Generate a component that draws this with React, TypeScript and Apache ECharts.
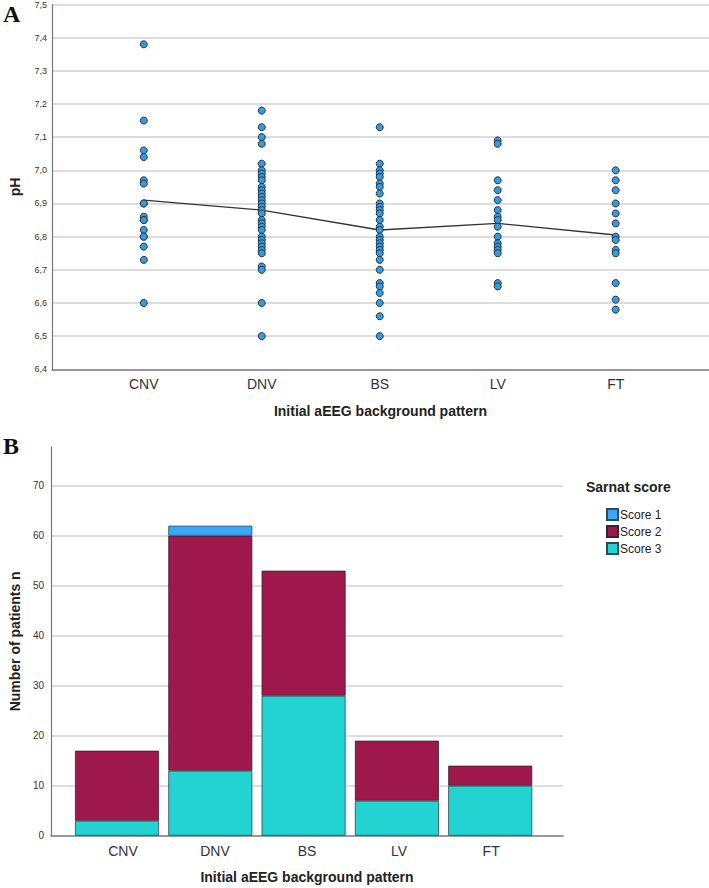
import React, { useEffect, useRef } from "react";
import * as echarts from "echarts";

const categories = ["CNV", "DNV", "BS", "LV", "FT"];

const phCNV = [7.38, 7.15, 7.06, 7.04, 6.97, 6.96, 6.9, 6.9, 6.86, 6.85, 6.85, 6.82, 6.8, 6.8, 6.77, 6.73, 6.6];
const phDNV = [
  7.18, 7.13, 7.1, 7.08, 7.02, 7.0, 6.99, 6.98, 6.97, 6.95, 6.94, 6.93, 6.92, 6.91, 6.9, 6.89,
  6.88, 6.87, 6.85, 6.84, 6.83, 6.82, 6.8, 6.79, 6.78, 6.77, 6.76, 6.75, 6.71, 6.7, 6.6, 6.5,
];
const phBS = [
  7.13, 7.02, 7.0, 6.99, 6.98, 6.96, 6.95, 6.93, 6.9, 6.89, 6.88, 6.87, 6.85, 6.83, 6.82, 6.8,
  6.79, 6.78, 6.77, 6.76, 6.75, 6.73, 6.7, 6.66, 6.65, 6.63, 6.6, 6.56, 6.5,
];
const phLV = [7.09, 7.08, 6.97, 6.94, 6.91, 6.88, 6.86, 6.85, 6.83, 6.8, 6.78, 6.77, 6.76, 6.75, 6.66, 6.65];
const phFT = [7.0, 6.97, 6.94, 6.9, 6.87, 6.84, 6.8, 6.79, 6.76, 6.75, 6.66, 6.61, 6.58];
const phMeans = [6.91, 6.88, 6.82, 6.84, 6.805];

const score1 = [0, 2, 0, 0, 0];
const score2 = [14, 47, 25, 12, 4];
const score3 = [3, 13, 28, 7, 10];

const FONT = "Liberation Sans, Arial, sans-serif";

export default function App() {
  const ref = useRef<HTMLDivElement>(null);
  useEffect(() => {
    if (!ref.current) return;
    const chart = echarts.init(ref.current, undefined, { renderer: "svg" });
    const phGroups = [phCNV, phDNV, phBS, phLV, phFT];
    const scatterData: number[][] = [];
    phGroups.forEach((g, i) => g.forEach((v) => scatterData.push([i, v])));

    const catLabel = (v: number) => {
      const i = Math.round(v);
      return Math.abs(v - i) < 1e-6 && categories[i] ? categories[i] : "";
    };
    const nonZero = (arr: number[]) => arr.map((v) => (v === 0 ? null : v));
    const axisName = {
      fontSize: 14,
      fontWeight: "bold",
      color: "#222",
      fontFamily: FONT,
    };

    const option: any = {
      animation: false,
      backgroundColor: "#fff",
      grid: [
        { left: 43, top: 4, width: 666, height: 365.3 },
        { left: 44, top: 447, width: 519, height: 388.7 },
        { left: 70.35, top: 447, width: 466.5, height: 388.7 },
      ],
      xAxis: [
        {
          gridIndex: 0,
          type: "value",
          min: -0.778,
          max: 4.791,
          axisLine: { show: true, onZero: false, lineStyle: { color: "#777", width: 1.5 } },
          axisTick: { show: false },
          splitLine: { show: false },
          axisLabel: {
            customValues: [0, 1, 2, 3, 4],
            formatter: catLabel,
            fontSize: 14,
            color: "#333",
            fontFamily: FONT,
            margin: 8,
          },
          name: "Initial aEEG background pattern",
          nameLocation: "middle",
          nameGap: 35,
          nameTextStyle: axisName,
        },
        {
          gridIndex: 1,
          type: "value",
          min: -0.782,
          max: 4.781,
          axisLine: { show: true, onZero: false, lineStyle: { color: "#777", width: 1.5 } },
          axisTick: { show: false },
          splitLine: { show: false },
          axisLabel: {
            customValues: [0, 1, 2, 3, 4],
            formatter: catLabel,
            fontSize: 14,
            color: "#333",
            fontFamily: FONT,
            margin: 8,
          },
          name: "Initial aEEG background pattern",
          nameLocation: "middle",
          nameGap: 34,
          nameTextStyle: axisName,
        },
        {
          gridIndex: 2,
          type: "category",
          data: categories,
          show: false,
        },
      ],
      yAxis: [
        {
          gridIndex: 0,
          type: "value",
          min: 6.4,
          max: 7.5,
          interval: 0.1,
          axisLine: { show: true, onZero: false, lineStyle: { color: "#777", width: 1.2 } },
          axisTick: { show: false },
          splitLine: { show: true, showMinLine: false, lineStyle: { color: "#d2d2d2", width: 1.5 } },
          axisLabel: {
            formatter: (v: number) => v.toFixed(1).replace(".", ","),
            fontSize: 9,
            color: "#333",
            fontFamily: FONT,
            margin: 5,
          },
          name: "pH",
          nameLocation: "middle",
          nameGap: 30,
          nameTextStyle: axisName,
        },
        {
          gridIndex: 1,
          type: "value",
          min: 0,
          max: 77.74,
          interval: 10,
          axisLine: { show: true, onZero: false, lineStyle: { color: "#777", width: 1.2 } },
          axisTick: { show: false },
          splitLine: {
            show: true,
            showMinLine: false,
            showMaxLine: false,
            lineStyle: { color: "#d2d2d2", width: 1.5 },
          },
          axisLabel: {
            showMaxLabel: false,
            fontSize: 10,
            color: "#333",
            fontFamily: FONT,
            margin: 7,
          },
          name: "Number of patients n",
          nameLocation: "middle",
          nameGap: 29,
          nameTextStyle: axisName,
        },
        {
          gridIndex: 2,
          type: "value",
          min: 0,
          max: 77.74,
          show: false,
          splitLine: { show: false },
        },
      ],
      legend: {
        data: ["Score 1", "Score 2", "Score 3"],
        orient: "vertical",
        left: 601,
        top: 503,
        itemWidth: 11,
        itemHeight: 11,
        itemGap: 4,
        icon: "rect",
        textStyle: { fontSize: 12, color: "#222", fontFamily: FONT, padding: [0, 0, 0, -3] },
      },
      graphic: [
        {
          type: "text",
          left: 3,
          top: 2,
          style: { text: "A", fontSize: 24, fontWeight: "bold", fontFamily: "Liberation Serif, serif", fill: "#111" },
        },
        {
          type: "text",
          left: 3,
          top: 434,
          style: { text: "B", fontSize: 24, fontWeight: "bold", fontFamily: "Liberation Serif, serif", fill: "#111" },
        },
        {
          type: "text",
          left: 586,
          top: 480,
          style: { text: "Sarnat score", fontSize: 14, fontWeight: "bold", fontFamily: FONT, fill: "#222" },
        },
      ],
      series: [
        {
          type: "line",
          xAxisIndex: 0,
          yAxisIndex: 0,
          data: phMeans.map((v, i) => [i, v]),
          symbol: "none",
          lineStyle: { color: "#333", width: 1.3 },
          z: 3,
        },
        {
          type: "scatter",
          xAxisIndex: 0,
          yAxisIndex: 0,
          data: scatterData,
          symbolSize: 7,
          itemStyle: { color: "#3a9ad9", borderColor: "#1d3550", borderWidth: 1, opacity: 1 },
          z: 4,
        },
        {
          name: "Score 3",
          type: "bar",
          stack: "s",
          xAxisIndex: 2,
          yAxisIndex: 2,
          barWidth: 84,
          data: nonZero(score3),
          itemStyle: { color: "#22d3d1", borderColor: "#2b4a55", borderWidth: 0.8 },
        },
        {
          name: "Score 2",
          type: "bar",
          stack: "s",
          xAxisIndex: 2,
          yAxisIndex: 2,
          barWidth: 84,
          data: nonZero(score2),
          itemStyle: { color: "#9e184b", borderColor: "#3a2030", borderWidth: 0.8 },
        },
        {
          name: "Score 1",
          type: "bar",
          stack: "s",
          xAxisIndex: 2,
          yAxisIndex: 2,
          barWidth: 84,
          data: nonZero(score1),
          itemStyle: { color: "#3aa8f2", borderColor: "#2a4a6a", borderWidth: 0.8 },
        },
      ],
    };
    chart.setOption(option);
    return () => chart.dispose();
  }, []);
  return (
    <div
      ref={ref}
      style={{ position: "fixed", left: 0, top: 0, width: 709, height: 888, background: "#fff" }}
    />
  );
}
